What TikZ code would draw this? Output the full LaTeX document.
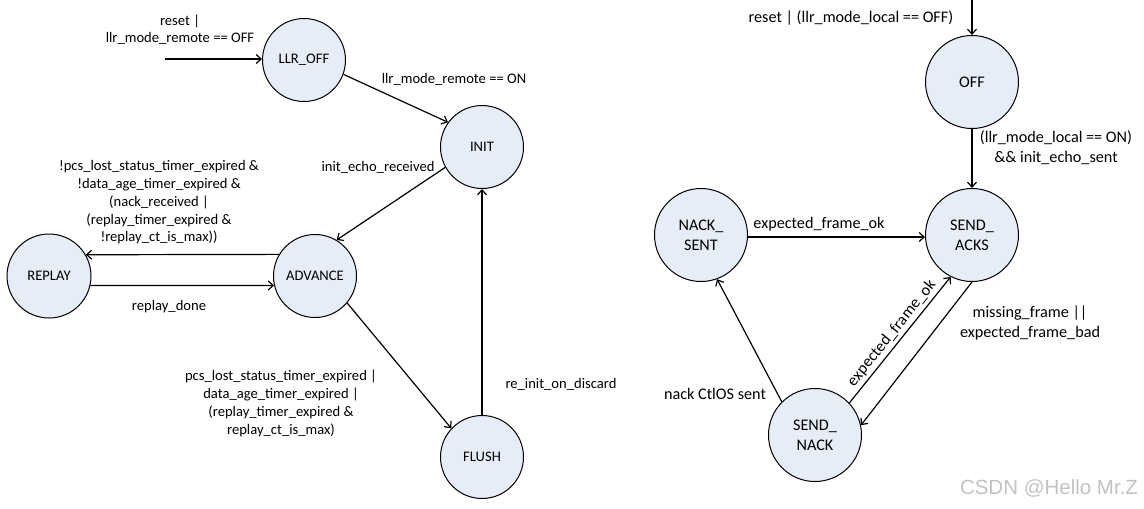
\documentclass[tikz,border=0pt]{standalone}
\usepackage{fontspec}
\setmainfont{Carlito}
\newfontfamily\wmfont{Liberation Sans}
\usetikzlibrary{arrows.meta}
\definecolor{statefill}{HTML}{E7EDF7}
\begin{document}
\begin{tikzpicture}[x=1pt,y=-1pt,
  state/.style={circle, draw, line width=1pt, fill=statefill, minimum size=83pt, inner sep=0pt, align=center, font=\fontsize{14.6}{17}\selectfont},
  bigstate/.style={state, minimum size=93pt, font=\fontsize{16.2}{20}\selectfont},
  lbl/.style={align=center, inner sep=0pt, font=\fontsize{14.6}{17.8}\selectfont},
  rlbl/.style={align=center, inner sep=0pt, font=\fontsize{16.2}{20}\selectfont},
  edge/.style={line width=1.2pt, -{Straight Barb[length=5pt,width=9pt]}}]
\useasboundingbox (0,0) rectangle (1144,509);
% left machine
\node[state] (LLR_OFF) at (304,60) {LLR\_OFF};
\node[state] (INIT) at (482,147) {INIT};
\node[state, minimum size=84pt] (REPLAY) at (49,276) {REPLAY};
\node[state] (ADVANCE) at (315,276) {ADVANCE};
\node[state] (FLUSH) at (482,457) {FLUSH};
\coordinate (start1) at (165,59);
\draw[edge] (start1) -- (LLR_OFF.west |- start1);
\draw[edge] (LLR_OFF.-20) -- (INIT.144);
\draw[edge] (INIT.209.6) -- (ADVANCE.59.3);
\draw[edge] (ADVANCE.149.6) -- (REPLAY.30);
\draw[edge] (REPLAY.-13.8) -- (ADVANCE.193.9);
\draw[edge] (ADVANCE.-40) -- (FLUSH.137);
\draw[edge] (FLUSH) -- (INIT);
\node[lbl, font=\fontsize{14.6}{17}\selectfont] (l1) at (180,29.5) {reset |\\llr\_mode\_remote == OFF};
\node[lbl] (l2) at (454,79) {llr\_mode\_remote == ON};
\node[lbl] (l3) at (378,167) {init\_echo\_received};
\node[lbl] (l4) at (159,202.5) {!pcs\_lost\_status\_timer\_expired \&\\!data\_age\_timer\_expired \&\\(nack\_received |\\(replay\_timer\_expired \&\\!replay\_ct\_is\_max))};
\node[lbl] (l5) at (169,307) {replay\_done};
\node[lbl] (l6) at (281,403.5) {pcs\_lost\_status\_timer\_expired |\\data\_age\_timer\_expired |\\(replay\_timer\_expired \&\\replay\_ct\_is\_max)};
\node[lbl] (l7) at (561,384) {re\_init\_on\_discard};
% right machine
\node[bigstate] (OFF) at (972,82) {OFF};
\node[bigstate] (SEND_ACKS) at (972,235) {SEND\_\\ACKS};
\node[bigstate] (NACK_SENT) at (701,235) {NACK\_\\SENT};
\node[bigstate] (SEND_NACK) at (815,435) {SEND\_\\NACK};
\coordinate (start2) at (972,0);
\draw[edge] (start2) -- (OFF);
\draw[edge] (OFF) -- (SEND_ACKS);
\draw[edge] (NACK_SENT.east |- 0,237) -- (SEND_ACKS.west |- 0,237);
\draw[edge] (SEND_NACK.135) -- (NACK_SENT.-70);
\draw[edge] (SEND_NACK.43) -- node[rlbl, midway, sloped, above=3pt] (l12) {expected\_frame\_ok} (SEND_ACKS.243);
\draw[edge] (SEND_ACKS.-90) -- (SEND_NACK.12);
\node[rlbl] (l8) at (851,18) {reset | (llr\_mode\_local == OFF)};
\node[rlbl] (l9) at (1056,148) {(llr\_mode\_local == ON)\\\&\& init\_echo\_sent};
\node[rlbl] (l10) at (819,224) {expected\_frame\_ok};
\node[rlbl] (l11) at (715,394) {nack CtlOS sent};
\node[rlbl] (l13) at (1030,323) {missing\_frame ||\\expected\_frame\_bad};
\node[inner sep=0pt, text=black!24, font=\wmfont\fontsize{20.5}{20.5}\selectfont] (wm) at (1049,488) {CSDN @Hello Mr.Z};
\end{tikzpicture}
\end{document}
